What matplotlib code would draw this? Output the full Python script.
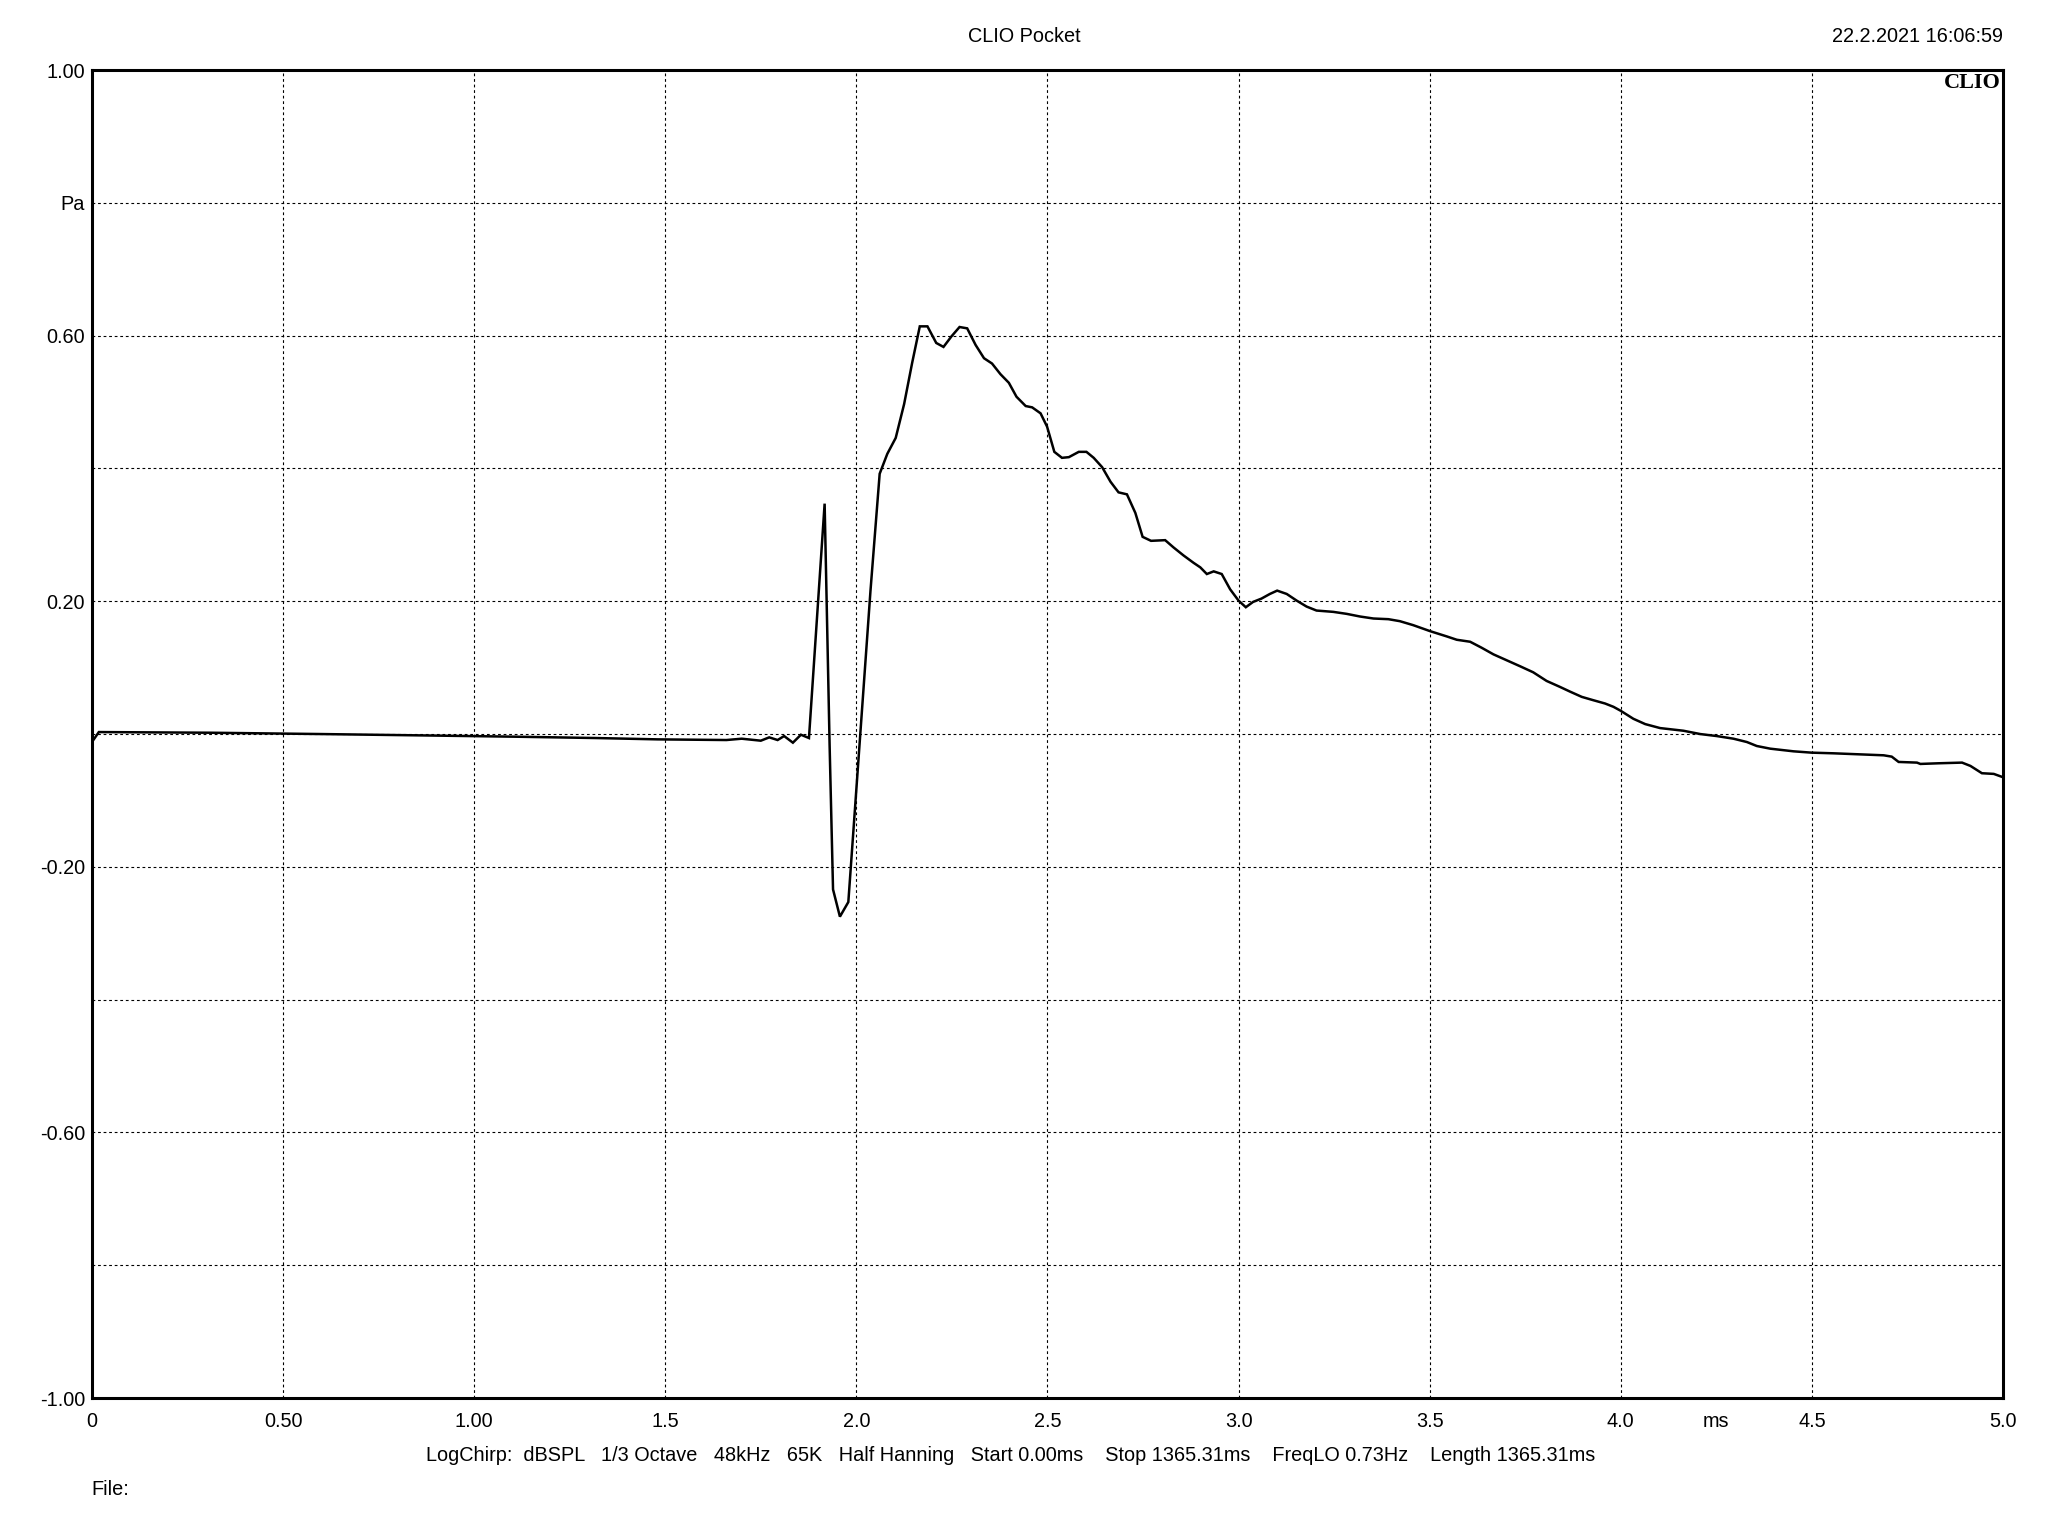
import matplotlib
matplotlib.use("Agg")
import matplotlib.pyplot as plt
import matplotlib.transforms as mtransforms

# ---------- Data ----------
time_ms = [
    0.000, 0.018, 0.31, 0.60, 0.86, 1.11, 1.32, 1.48, 1.66, 1.70,
    1.750, 1.772, 1.794, 1.811, 1.834, 1.855, 1.876, 1.917, 1.930, 1.939,
    1.957, 1.979, 2.003, 2.037, 2.061, 2.081, 2.103, 2.125, 2.146, 2.166,
    2.186, 2.209, 2.228, 2.249, 2.270, 2.290, 2.312, 2.334, 2.355, 2.377,
    2.399, 2.419, 2.443, 2.460, 2.482, 2.499, 2.518, 2.538, 2.556, 2.582,
    2.602, 2.621, 2.643, 2.665, 2.686, 2.708, 2.730, 2.749, 2.771, 2.808,
    2.830, 2.856, 2.882, 2.900, 2.917, 2.935, 2.956, 2.978, 3.000, 3.019,
    3.038, 3.060, 3.082, 3.101, 3.126, 3.152, 3.178, 3.204, 3.248, 3.283,
    3.318, 3.353, 3.392, 3.422, 3.457, 3.501, 3.545, 3.571, 3.606, 3.636,
    3.667, 3.702, 3.737, 3.771, 3.806, 3.841, 3.867, 3.898, 3.928, 3.959,
    3.981, 4.000, 4.033, 4.064, 4.103, 4.164, 4.208, 4.251, 4.295, 4.330,
    4.356, 4.391, 4.452, 4.499, 4.557, 4.688, 4.709, 4.727, 4.775, 4.784,
    4.832, 4.893, 4.915, 4.945, 4.976, 5.000,
]
pressure_pa = [
    -0.012, 0.003, 0.002, 0.000, -0.002, -0.004, -0.006, -0.008, -0.009, -0.007,
    -0.010, -0.005, -0.009, -0.003, -0.013, -0.001, -0.006, 0.347, -0.016, -0.234,
    -0.275, -0.253, -0.059, 0.216, 0.392, 0.422, 0.446, 0.497, 0.559, 0.614,
    0.614, 0.589, 0.583, 0.599, 0.613, 0.611, 0.586, 0.566, 0.558, 0.542,
    0.529, 0.508, 0.494, 0.492, 0.483, 0.463, 0.425, 0.416, 0.417, 0.425,
    0.425, 0.416, 0.402, 0.380, 0.364, 0.361, 0.333, 0.297, 0.291, 0.292,
    0.281, 0.269, 0.258, 0.251, 0.241, 0.245, 0.241, 0.218, 0.201, 0.191,
    0.199, 0.204, 0.211, 0.216, 0.211, 0.201, 0.192, 0.186, 0.184, 0.181,
    0.177, 0.174, 0.173, 0.170, 0.164, 0.155, 0.147, 0.142, 0.139, 0.130,
    0.120, 0.111, 0.102, 0.093, 0.080, 0.071, 0.064, 0.056, 0.051, 0.046,
    0.041, 0.035, 0.023, 0.015, 0.009, 0.005, 0.000, -0.003, -0.007, -0.012,
    -0.018, -0.022, -0.026, -0.028, -0.029, -0.032, -0.034, -0.042, -0.043, -0.045,
    -0.044, -0.043, -0.048, -0.059, -0.060, -0.065,
]

x_ticks = [0, 0.5, 1.0, 1.5, 2.0, 2.5, 3.0, 3.5, 4.0, 4.5, 5.0]
x_labels = ["0", "0.50", "1.00", "1.5", "2.0", "2.5", "3.0", "3.5", "4.0", "4.5", "5.0"]
y_ticks = [-1.0, -0.8, -0.6, -0.4, -0.2, 0.0, 0.2, 0.4, 0.6, 0.8, 1.0]
y_labels = ["-1.00", "", "-0.60", "", "-0.20", "", "0.20", "", "0.60", "Pa", "1.00"]

info_line = ("LogChirp:  dBSPL   1/3 Octave   48kHz   65K   Half Hanning   "
             "Start 0.00ms    Stop 1365.31ms    FreqLO 0.73Hz    Length 1365.31ms")

# ---------- Plot ----------
plt.rcParams['font.family'] = ['Liberation Sans', 'DejaVu Sans']
fs = 14.3

fig = plt.figure(figsize=(20.48, 15.36), dpi=100)
ax = fig.add_axes([0.0449, 0.0898, 0.9331, 0.8646])

ax.plot(time_ms, pressure_pa, color='black', lw=1.8, solid_joinstyle='miter')

ax.set_xlim(0, 5)
ax.set_ylim(-1, 1)
ax.set_xticks(x_ticks)
ax.set_xticklabels(x_labels, fontsize=fs)
ax.set_yticks(y_ticks)
ax.set_yticklabels(y_labels, fontsize=fs)
ax.tick_params(axis='y', length=0, pad=5)
ax.tick_params(axis='x', length=0, pad=10)

ax.grid(True, color='black', lw=0.8, linestyle=(0, (2.5, 2.5)))
for s in ax.spines.values():
    s.set_linewidth(2.2)

# "ms" unit label sits among the x tick labels
trans = mtransforms.blended_transform_factory(ax.transData, ax.transAxes)
ax.text(4.25, -0.0108, "ms", transform=trans, ha='center', va='top', fontsize=fs)

# CLIO logo in the top-right corner
ax.text(0.999, 0.998, "CLIO", transform=ax.transAxes, ha='right', va='top',
        fontsize=16, fontweight='bold', family='Liberation Serif')

fig.text(0.5, 0.9763, "CLIO Pocket", ha='center', va='center', fontsize=fs)
fig.text(0.978, 0.9763, "22.2.2021 16:06:59", ha='right', va='center', fontsize=fs)
fig.text(0.4936, 0.0527, info_line, ha='center', va='center', fontsize=fs)
fig.text(0.0445, 0.0305, "File:", ha='left', va='center', fontsize=fs)

fig.savefig("out.png", dpi=100)
